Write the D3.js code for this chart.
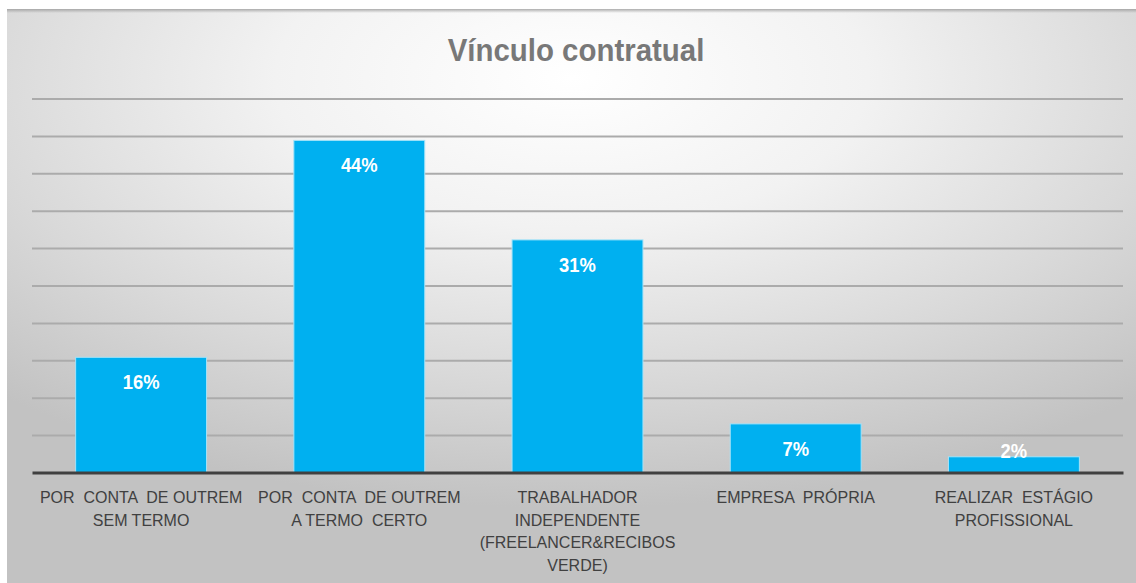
<!DOCTYPE html>
<html>
<head>
<meta charset="utf-8">
<script src="https://cdn.jsdelivr.net/npm/d3@7"></script>
<style>
    html, body { margin: 0; padding: 0; background: #fff; }
    svg { display: block; }
    .cat-label { font-family: "Liberation Sans", Arial, sans-serif; font-size: 16px; fill: #404040; }
    .value-label { font-family: "Liberation Sans", Arial, sans-serif; font-size: 20px; font-weight: bold; fill: #fff; }
    .chart-title { font-family: "Liberation Sans", Arial, sans-serif; font-size: 32px; font-weight: bold; fill: #787878; }
</style>
</head>
<body>
<div id="chart"></div>
<script>
// Categories, one array of lines per bar
const categories = [
    ["POR  CONTA  DE OUTREM", "SEM TERMO"],
    ["POR  CONTA  DE OUTREM", "A TERMO  CERTO"],
    ["TRABALHADOR", "INDEPENDENTE", "(FREELANCER&RECIBOS", "VERDE)"],
    ["EMPRESA  PRÓPRIA"],
    ["REALIZAR  ESTÁGIO", "PROFISSIONAL"]
];

// Bar heights (percent)
const values = [15.4, 44.4, 31.1, 6.5, 2.1];

// Data labels as printed on the bars
const valueLabels = ["16%", "44%", "31%", "7%", "2%"];

// Gridline values (percent)
const gridTicks = [5, 10, 15, 20, 25, 30, 35, 40, 45, 50];

const title = "Vínculo contratual";

const config = {
    width: 1136,
    height: 583,
    frame: { x: 7, y: 9 },
    plot: { left: 32, right: 1123, top: 98.5, bottom: 472.5 }
};

const svg = d3.select("#chart").append("svg")
    .attr("width", config.width)
    .attr("height", config.height);

// Background gradient (light centre, grey edges)
const defs = svg.append("defs");
const grad = defs.append("radialGradient")
    .attr("id", "bg")
    .attr("cx", "50%").attr("cy", "12%")
    .attr("r", "75%")
    .attr("fx", "50%").attr("fy", "12%");
grad.append("stop").attr("offset", "0%").attr("stop-color", "#ffffff");
grad.append("stop").attr("offset", "35%").attr("stop-color", "#f2f2f2");
grad.append("stop").attr("offset", "70%").attr("stop-color", "#d9d9d9");
grad.append("stop").attr("offset", "100%").attr("stop-color", "#c2c2c2");

const topShade = defs.append("linearGradient")
    .attr("id", "topShade")
    .attr("x1", 0).attr("y1", 0).attr("x2", 0).attr("y2", 1);
topShade.append("stop").attr("offset", "0%").attr("stop-color", "#9a9a9a").attr("stop-opacity", 0.8);
topShade.append("stop").attr("offset", "100%").attr("stop-color", "#9a9a9a").attr("stop-opacity", 0);

svg.append("rect")
    .attr("x", config.frame.x)
    .attr("y", config.frame.y)
    .attr("width", config.width - config.frame.x)
    .attr("height", config.height - config.frame.y)
    .attr("fill", "url(#bg)");

svg.append("rect")
    .attr("x", config.frame.x)
    .attr("y", config.frame.y)
    .attr("width", config.width - config.frame.x)
    .attr("height", 4)
    .attr("fill", "url(#topShade)");

// Scales
const xScale = d3.scaleBand()
    .domain(d3.range(values.length))
    .range([config.plot.left, config.plot.right])
    .paddingInner(0.4)
    .paddingOuter(0.2);

const yScale = d3.scaleLinear()
    .domain([0, 50])
    .range([config.plot.bottom, config.plot.top]);

// Gridlines
const gridAxis = d3.axisLeft(yScale)
    .tickValues(gridTicks)
    .tickSize(-(config.plot.right - config.plot.left))
    .tickFormat("");

const gridG = svg.append("g")
    .attr("transform", `translate(${config.plot.left},0)`)
    .call(gridAxis);
gridG.select(".domain").remove();
gridG.selectAll(".tick line")
    .attr("stroke", "#ababab")
    .attr("stroke-width", 2);

// Title (slightly condensed to mimic the narrow original face)
const titleX = config.width / 2 + 8;
svg.append("text")
    .attr("class", "chart-title")
    .attr("transform", `translate(${titleX},61) scale(0.92,1)`)
    .attr("text-anchor", "middle")
    .text(title);

// Bars
svg.selectAll(".bar")
    .data(values)
    .join("rect")
    .attr("class", "bar")
    .attr("x", (d, i) => xScale(i))
    .attr("y", d => yScale(d))
    .attr("width", xScale.bandwidth())
    .attr("height", d => yScale(0) - yScale(d))
    .attr("fill", "#00b0f0")
    .attr("stroke", "#a6e3f8")
    .attr("stroke-width", 1);

// Value labels (inside end)
svg.selectAll(".value-label")
    .data(values)
    .join("text")
    .attr("class", "value-label")
    .attr("transform", (d, i) => {
        const h = yScale(0) - yScale(d);
        const x = xScale(i) + xScale.bandwidth() / 2;
        const y = h > 40 ? yScale(d) + 32 : yScale(d) + 1;
        return `translate(${x},${y}) scale(0.92,1)`;
    })
    .attr("text-anchor", "middle")
    .text((d, i) => valueLabels[i]);

// Baseline
const xAxis = d3.axisBottom(xScale).tickSize(0).tickFormat("");
const xAxisG = svg.append("g")
    .attr("transform", `translate(0,${yScale(0)})`)
    .call(xAxis);
xAxisG.select(".domain")
    .attr("stroke", "#404040")
    .attr("stroke-width", 3);

// Category labels
svg.selectAll(".cat-label")
    .data(categories)
    .join("text")
    .attr("class", "cat-label")
    .attr("x", (d, i) => xScale(i) + xScale.bandwidth() / 2)
    .attr("y", 503)
    .attr("text-anchor", "middle")
    .style("white-space", "pre")
    .each(function (lines) {
        const t = d3.select(this);
        const x = t.attr("x");
        lines.forEach((line, j) => {
            t.append("tspan")
                .attr("x", x)
                .attr("dy", j === 0 ? 0 : 22.5)
                .text(line);
        });
    });
</script>
</body>
</html>
